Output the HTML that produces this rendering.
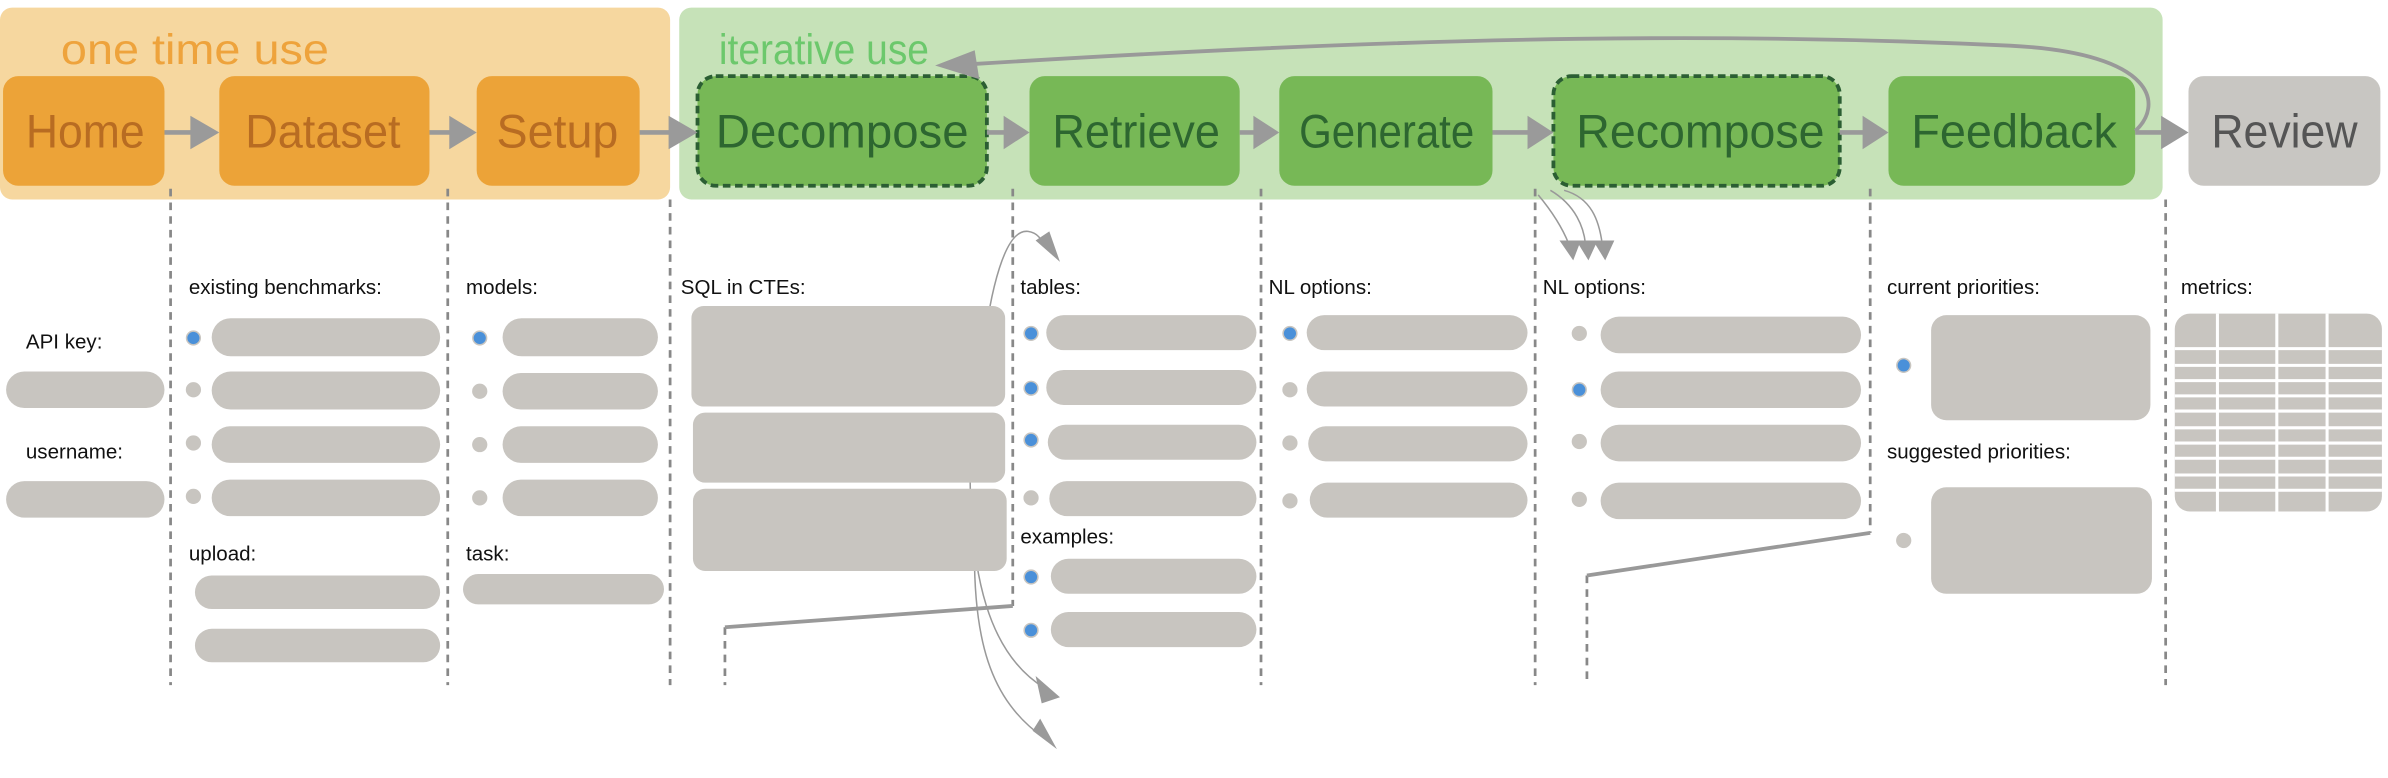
<!DOCTYPE html>
<html><head><meta charset="utf-8"><style>
html,body{margin:0;padding:0;background:#fff;}
svg{display:block;}
text{font-family:"Liberation Sans",sans-serif;}
.lbl{font-size:13.5px;fill:#111;}
.bar{fill:#c8c5c0;}
.dot{fill:#c8c5c0;}
.bd{fill:#4a90d9;stroke:#c8c5c0;stroke-width:1;}
.dash{stroke:#888;stroke-width:1.8;stroke-dasharray:5,4;fill:none;}
.arr{fill:#9a9a9a;}
.ln{stroke:#9a9a9a;stroke-width:3;fill:none;}
.thin{stroke:#999;stroke-width:1;fill:none;}
.no{font-size:31px;fill:#b86c22;}
.ng{font-size:31px;fill:#2d6630;}
</style></head><body>
<svg width="2388" height="778" viewBox="0 0 1568 511" preserveAspectRatio="none" xmlns="http://www.w3.org/2000/svg">
<rect x="0" y="5" width="440" height="126" rx="8" fill="#f6d79f"/>
<rect x="446" y="5" width="974" height="126" rx="8" fill="#c6e2b8"/>
<text x="40" y="42" textLength="176" lengthAdjust="spacingAndGlyphs" style="font-size:28px;fill:#eea33c">one time use</text>
<text x="472" y="42" textLength="138" lengthAdjust="spacingAndGlyphs" style="font-size:28px;fill:#6cc86c">iterative use</text>

<rect x="2" y="50" width="106" height="72" rx="10" fill="#eca338"/>
<rect x="144" y="50" width="138" height="72" rx="10" fill="#eca338"/>
<rect x="313" y="50" width="107" height="72" rx="10" fill="#eca338"/>
<rect x="458" y="50" width="190" height="72" rx="12" fill="#77b856" stroke="#2b5e33" stroke-width="2.5" stroke-dasharray="5,3"/>
<rect x="676" y="50" width="138" height="72" rx="10" fill="#77b856"/>
<rect x="840" y="50" width="140" height="72" rx="10" fill="#77b856"/>
<rect x="1020" y="50" width="188" height="72" rx="12" fill="#77b856" stroke="#2b5e33" stroke-width="2.5" stroke-dasharray="5,3"/>
<rect x="1240" y="50" width="162" height="72" rx="10" fill="#77b856"/>
<rect x="1437" y="50" width="126" height="72" rx="10" fill="#c8c6c2"/>
<text class="no" x="17" y="97" textLength="78" lengthAdjust="spacingAndGlyphs">Home</text>
<text class="no" x="161" y="97" textLength="102" lengthAdjust="spacingAndGlyphs">Dataset</text>
<text class="no" x="326" y="97" textLength="80" lengthAdjust="spacingAndGlyphs">Setup</text>
<text class="ng" x="470" y="97" textLength="166" lengthAdjust="spacingAndGlyphs">Decompose</text>
<text class="ng" x="691" y="97" textLength="110" lengthAdjust="spacingAndGlyphs">Retrieve</text>
<text class="ng" x="853" y="97" textLength="115" lengthAdjust="spacingAndGlyphs">Generate</text>
<text class="ng" x="1035" y="97" textLength="163" lengthAdjust="spacingAndGlyphs">Recompose</text>
<text class="ng" x="1255" y="97" textLength="135" lengthAdjust="spacingAndGlyphs">Feedback</text>
<text x="1452" y="97" textLength="96" lengthAdjust="spacingAndGlyphs" style="font-size:31px;fill:#555">Review</text>

<g>
<line class="ln" x1="108" y1="87" x2="126" y2="87"/><polygon class="arr" points="125,76 144,87 125,98"/>
<line class="ln" x1="282" y1="87" x2="296" y2="87"/><polygon class="arr" points="295,76 313,87 295,98"/>
<line class="ln" x1="420" y1="87" x2="440" y2="87"/><polygon class="arr" points="439,76 458,87 439,98"/>
<line class="ln" x1="648" y1="87" x2="660" y2="87"/><polygon class="arr" points="659,76 676,87 659,98"/>
<line class="ln" x1="814" y1="87" x2="824" y2="87"/><polygon class="arr" points="823,76 840,87 823,98"/>
<line class="ln" x1="980" y1="87" x2="1004" y2="87"/><polygon class="arr" points="1003,76 1020,87 1003,98"/>
<line class="ln" x1="1208" y1="87" x2="1224" y2="87"/><polygon class="arr" points="1223,76 1240,87 1223,98"/>
<line class="ln" x1="1402" y1="87" x2="1420" y2="87"/><polygon class="arr" points="1419,76 1437,87 1419,98"/>
</g>
<path d="M1402,86 C1420,70 1418,35 1320,30 C1150,22 960,22 640,42" stroke="#999" stroke-width="2.5" fill="none"/>
<polygon class="arr" points="614,43 640,33 643,52"/>

<g class="dash">
<line x1="112" y1="124" x2="112" y2="450"/>
<line x1="294" y1="124" x2="294" y2="450"/>
<line x1="440" y1="131" x2="440" y2="450"/>
<line x1="665" y1="124" x2="665" y2="398"/>
<line x1="828" y1="124" x2="828" y2="450"/>
<line x1="1008" y1="124" x2="1008" y2="450"/>
<line x1="1228" y1="124" x2="1228" y2="350"/>
<line x1="1422" y1="131" x2="1422" y2="450"/>
<line x1="476" y1="412" x2="476" y2="450"/>
<line x1="1042" y1="378" x2="1042" y2="450"/>
</g>
<polyline points="476,412 665,398" stroke="#999" stroke-width="2.5" fill="none"/>
<polyline points="1042,378 1228,350" stroke="#999" stroke-width="2.5" fill="none"/>

<path class="thin" d="M645,236 C650,190 660,150 675,152 C682,153 684,158 686,162"/>
<polygon class="arr" points="680,158 696,172 689,152"/>
<path class="thin" d="M637,300 C636,380 650,430 686,452"/>
<polygon class="arr" points="680,444 696,458 684,462"/>
<path class="thin" d="M640,350 C638,420 650,460 686,485"/>
<polygon class="arr" points="678,480 694,492 683,472"/>
<path class="thin" d="M1010,128 C1020,140 1026,150 1030,160"/>
<path class="thin" d="M1018,125 C1035,135 1040,150 1041,160"/>
<path class="thin" d="M1027,125 C1045,130 1050,145 1052,160"/>
<polygon class="arr" points="1024,158 1038,158 1033,171"/>
<polygon class="arr" points="1035,158 1049,158 1043,171"/>
<polygon class="arr" points="1046,158 1060,158 1054,171"/>

<text class="lbl" x="17" y="229">API key:</text>
<rect class="bar" x="4" y="244" width="104" height="24" rx="12"/>
<text class="lbl" x="17" y="301">username:</text>
<rect class="bar" x="4" y="316" width="104" height="24" rx="12"/>

<text class="lbl" x="124" y="193">existing benchmarks:</text>
<circle class="bd" cx="127" cy="222" r="4.5"/>
<circle class="dot" cx="127" cy="256" r="5"/>
<circle class="dot" cx="127" cy="291" r="5"/>
<circle class="dot" cx="127" cy="326" r="5"/>
<rect class="bar" x="139" y="209" width="150" height="25" rx="12.5"/>
<rect class="bar" x="139" y="244" width="150" height="25" rx="12.5"/>
<rect class="bar" x="139" y="280" width="150" height="24" rx="12"/>
<rect class="bar" x="139" y="315" width="150" height="24" rx="12"/>
<text class="lbl" x="124" y="368">upload:</text>
<rect class="bar" x="128" y="378" width="161" height="22" rx="11"/>
<rect class="bar" x="128" y="413" width="161" height="22" rx="11"/>

<text class="lbl" x="306" y="193">models:</text>
<circle class="bd" cx="315" cy="222" r="4.5"/>
<circle class="dot" cx="315" cy="257" r="5"/>
<circle class="dot" cx="315" cy="292" r="5"/>
<circle class="dot" cx="315" cy="327" r="5"/>
<rect class="bar" x="330" y="209" width="102" height="25" rx="12.5"/>
<rect class="bar" x="330" y="245" width="102" height="24" rx="12"/>
<rect class="bar" x="330" y="280" width="102" height="24" rx="12"/>
<rect class="bar" x="330" y="315" width="102" height="24" rx="12"/>
<text class="lbl" x="306" y="368">task:</text>
<rect class="bar" x="304" y="377" width="132" height="20" rx="10"/>

<text class="lbl" x="447" y="193">SQL in CTEs:</text>
<rect class="bar" x="454" y="201" width="206" height="66" rx="8"/>
<rect class="bar" x="455" y="271" width="205" height="46" rx="8"/>
<rect class="bar" x="455" y="321" width="206" height="54" rx="8"/>

<text class="lbl" x="670" y="193">tables:</text>
<circle class="bd" cx="677" cy="219" r="4.5"/>
<circle class="bd" cx="677" cy="255" r="4.5"/>
<circle class="bd" cx="677" cy="289" r="4.5"/>
<circle class="dot" cx="677" cy="327" r="5"/>
<rect class="bar" x="687" y="207" width="138" height="23" rx="11.5"/>
<rect class="bar" x="687" y="243" width="138" height="23" rx="11.5"/>
<rect class="bar" x="688" y="279" width="137" height="23" rx="11.5"/>
<rect class="bar" x="689" y="316" width="136" height="23" rx="11.5"/>
<text class="lbl" x="670" y="357">examples:</text>
<circle class="bd" cx="677" cy="379" r="4.5"/>
<circle class="bd" cx="677" cy="414" r="4.5"/>
<rect class="bar" x="690" y="367" width="135" height="23" rx="11.5"/>
<rect class="bar" x="690" y="402" width="135" height="23" rx="11.5"/>

<text class="lbl" x="833" y="193">NL options:</text>
<circle class="bd" cx="847" cy="219" r="4.5"/>
<circle class="dot" cx="847" cy="256" r="5"/>
<circle class="dot" cx="847" cy="291" r="5"/>
<circle class="dot" cx="847" cy="329" r="5"/>
<rect class="bar" x="858" y="207" width="145" height="23" rx="11.5"/>
<rect class="bar" x="858" y="244" width="145" height="23" rx="11.5"/>
<rect class="bar" x="859" y="280" width="144" height="23" rx="11.5"/>
<rect class="bar" x="860" y="317" width="143" height="23" rx="11.5"/>

<text class="lbl" x="1013" y="193">NL options:</text>
<circle class="dot" cx="1037" cy="219" r="5"/>
<circle class="bd" cx="1037" cy="256" r="4.5"/>
<circle class="dot" cx="1037" cy="290" r="5"/>
<circle class="dot" cx="1037" cy="328" r="5"/>
<rect class="bar" x="1051" y="208" width="171" height="24" rx="12"/>
<rect class="bar" x="1051" y="244" width="171" height="24" rx="12"/>
<rect class="bar" x="1051" y="279" width="171" height="24" rx="12"/>
<rect class="bar" x="1051" y="317" width="171" height="24" rx="12"/>

<text class="lbl" x="1239" y="193">current priorities:</text>
<circle class="bd" cx="1250" cy="240" r="4.5"/>
<rect class="bar" x="1268" y="207" width="144" height="69" rx="10"/>
<text class="lbl" x="1239" y="301">suggested priorities:</text>
<circle class="dot" cx="1250" cy="355" r="5"/>
<rect class="bar" x="1268" y="320" width="145" height="70" rx="10"/>

<text class="lbl" x="1432" y="193">metrics:</text>
<rect class="bar" x="1428" y="206" width="136" height="130" rx="10"/>
<g stroke="#fff" stroke-width="2">
<line x1="1456" y1="206" x2="1456" y2="336"/>
<line x1="1495" y1="206" x2="1495" y2="336"/>
<line x1="1528" y1="206" x2="1528" y2="336"/>
<line x1="1428" y1="229" x2="1564" y2="229"/>
<line x1="1428" y1="240" x2="1564" y2="240"/>
<line x1="1428" y1="250" x2="1564" y2="250"/>
<line x1="1428" y1="260" x2="1564" y2="260"/>
<line x1="1428" y1="270" x2="1564" y2="270"/>
<line x1="1428" y1="281" x2="1564" y2="281"/>
<line x1="1428" y1="291" x2="1564" y2="291"/>
<line x1="1428" y1="301" x2="1564" y2="301"/>
<line x1="1428" y1="312" x2="1564" y2="312"/>
<line x1="1428" y1="322" x2="1564" y2="322"/>
</g>
</svg>
</body></html>
